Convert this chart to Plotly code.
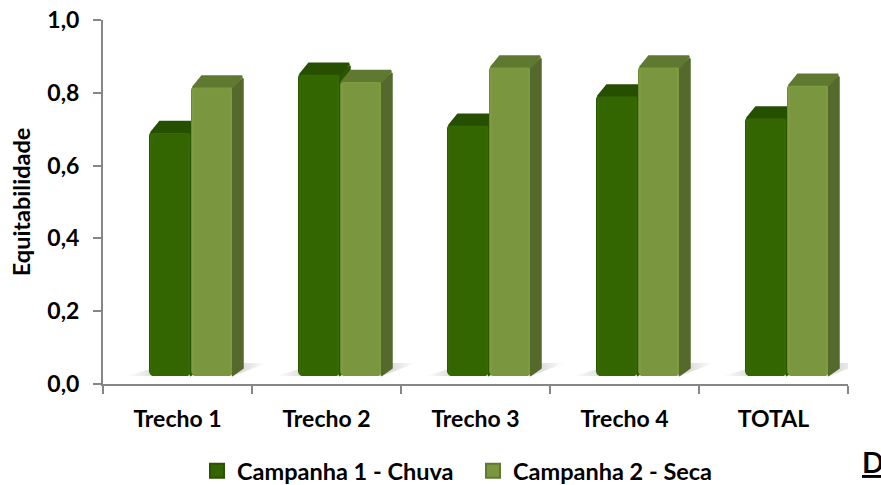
import plotly.graph_objects as go

categories = ["Trecho 1", "Trecho 2", "Trecho 3", "Trecho 4", "TOTAL"]
chuva = [0.695, 0.855, 0.715, 0.795, 0.735]
seca = [0.82, 0.835, 0.875, 0.875, 0.825]
y_ticks = [0.0, 0.2, 0.4, 0.6, 0.8, 1.0]
series_names = ["Campanha 1 - Chuva", "Campanha 2 - Seca"]

FONT = "Lato"
PX_X = 1 / 149      # one screen pixel in category units
PX_Y = 1 / 364      # one screen pixel in value units
BAR_W = 42 * PX_X
DX = 10 * PX_X
DY = 10 * PX_Y
FLOOR = 8 * PX_Y
SHIFT = 13.5 * PX_X
xs = list(range(len(categories)))

fig = go.Figure()


def add_series(values, lefts, axes, front, edge, top, side, inner_hi):
    xa, ya = axes
    centers = [c + BAR_W / 2 for c in lefts]
    for c, v in zip(lefts, values):
        r = c + BAR_W
        fig.add_trace(go.Scatter(
            x=[r - PX_X, r + DX, r + DX, r - PX_X],
            y=[v - 2 * PX_Y, v + DY - 3 * PX_Y, FLOOR + DY - 2 * PX_Y, FLOOR],
            mode="lines", fill="toself", fillcolor=side,
            line=dict(color=side, width=1.5), hoverinfo="skip", showlegend=False,
            xaxis=xa, yaxis=ya))
        fig.add_trace(go.Scatter(
            x=[c + 2 * PX_X, c + DX + 1 * PX_X, r + DX - PX_X, r - PX_X],
            y=[v - 2 * PX_Y, v + DY - PX_Y, v + DY - PX_Y, v - 2 * PX_Y],
            mode="lines", fill="toself", fillcolor=top,
            line=dict(color=top, width=2.5), hoverinfo="skip", showlegend=False,
            xaxis=xa, yaxis=ya))
    heights = [v - FLOOR for v in values]
    fig.add_trace(go.Bar(x=centers, y=heights, base=FLOOR, width=BAR_W,
                         marker=dict(color=edge, cornerradius=5, line=dict(width=0)),
                         hoverinfo="skip", showlegend=False, xaxis=xa, yaxis=ya))
    fig.add_trace(go.Bar(x=centers, y=[h - 1 * PX_Y for h in heights], base=FLOOR,
                         width=BAR_W - 2 * PX_X,
                         marker=dict(color=inner_hi, cornerradius=4, line=dict(width=0)),
                         hoverinfo="skip", showlegend=False, xaxis=xa, yaxis=ya))
    fig.add_trace(go.Bar(x=centers, y=[h - 3 * PX_Y for h in heights], base=FLOOR,
                         width=BAR_W - 6 * PX_X,
                         marker=dict(color=front, cornerradius=3, line=dict(width=0)),
                         hoverinfo="skip", showlegend=False, xaxis=xa, yaxis=ya))


for i in xs:
    left = i + SHIFT - BAR_W
    right = i + SHIFT + BAR_W
    fig.add_trace(go.Scatter(
        x=[left - 22 * PX_X, right, right + 34 * PX_X, left + 22 * PX_X],
        y=[FLOOR, FLOOR, FLOOR + 13 * PX_Y, FLOOR + 13 * PX_Y],
        mode="lines", fill="toself", line=dict(width=0),
        fillgradient=dict(type="horizontal", colorscale=[
            [0, "#ffffff"], [0.2, "#dcdcdc"], [0.82, "#dcdcdc"], [1, "#ffffff"]]),
        hoverinfo="skip", showlegend=False))

add_series(chuva, [i + SHIFT - BAR_W for i in xs], ("x2", "y2"),
           "#336600", "#2c5800", "#274f00", "#2c5500", "#356a00")
add_series(seca, [i + SHIFT for i in xs], ("x3", "y3"),
           "#7a963e", "#6e8a38", "#5f7a30", "#55692c", "#7e9b40")

for name, col, ln in zip(series_names, ["#336600", "#7a963e"], ["#2a5200", "#5f7a30"]):
    fig.add_trace(go.Scatter(x=[None], y=[None], mode="markers", name=name,
                             marker=dict(symbol="square", size=14, color=col,
                                         line=dict(color=ln, width=2))))

hidden = dict(visible=False, fixedrange=True)
xr = [-0.5, 4.5]
yr = [0, 1]
axis_col = "#868686"
bold = dict(family=FONT, size=23, weight="bold", color="black")
fig.update_layout(
    width=881, height=485, autosize=False,
    margin=dict(l=103, r=33, t=20, b=101, autoexpand=False),
    paper_bgcolor="white", plot_bgcolor="white",
    separators=",.", barmode="overlay",
    font=dict(family=FONT, color="black"),
    showlegend=True,
    legend=dict(orientation="h", x=(197 - 103) / 745, xref="paper", xanchor="left",
                y=-(471 - 384) / 364, yanchor="middle", entrywidth=231,
                font=dict(family=FONT, size=23.5, weight="bold", color="black"),
                itemclick=False, itemdoubleclick=False, tracegroupgap=0,
                bgcolor="rgba(0,0,0,0)"),
    xaxis=dict(range=xr, tickmode="array", tickvals=xs, ticktext=categories,
               ticks="", showgrid=False, zeroline=False, showline=True,
               linecolor=axis_col, linewidth=2, tickfont=bold,
               ticklabelstandoff=13,
               minor=dict(tickmode="array", tickvals=[-0.5, 0.5, 1.5, 2.5, 3.5, 4.5],
                          ticks="outside", ticklen=8, tickwidth=2, tickcolor=axis_col,
                          showgrid=False)),
    yaxis=dict(range=yr, tickmode="array", tickvals=y_ticks, tickformat=".1f",
               ticks="outside", ticklen=8, tickwidth=2, tickcolor=axis_col,
               showgrid=False, zeroline=False, showline=True,
               linecolor=axis_col, linewidth=2, tickfont=bold,
               ticklabelstandoff=9,
               title=dict(text="Equitabilidade", standoff=10,
                          font=dict(family=FONT, size=23.5, weight="bold", color="black"))),
    xaxis2=dict(range=xr, overlaying="x", **hidden),
    yaxis2=dict(range=yr, overlaying="y", **hidden),
    xaxis3=dict(range=xr, overlaying="x", **hidden),
    yaxis3=dict(range=yr, overlaying="y", **hidden),
    annotations=[dict(text="<u>D</u>", xref="paper", yref="paper",
                      x=(860 - 103) / 745, y=-(462 - 384) / 364,
                      xanchor="left", yanchor="middle", showarrow=False,
                      font=dict(family=FONT, size=29, weight="bold", color="black"))],
)

fig.write_html("out.html", config=dict(displayModeBar=False),
               post_script="document.body.style.margin='0';")
